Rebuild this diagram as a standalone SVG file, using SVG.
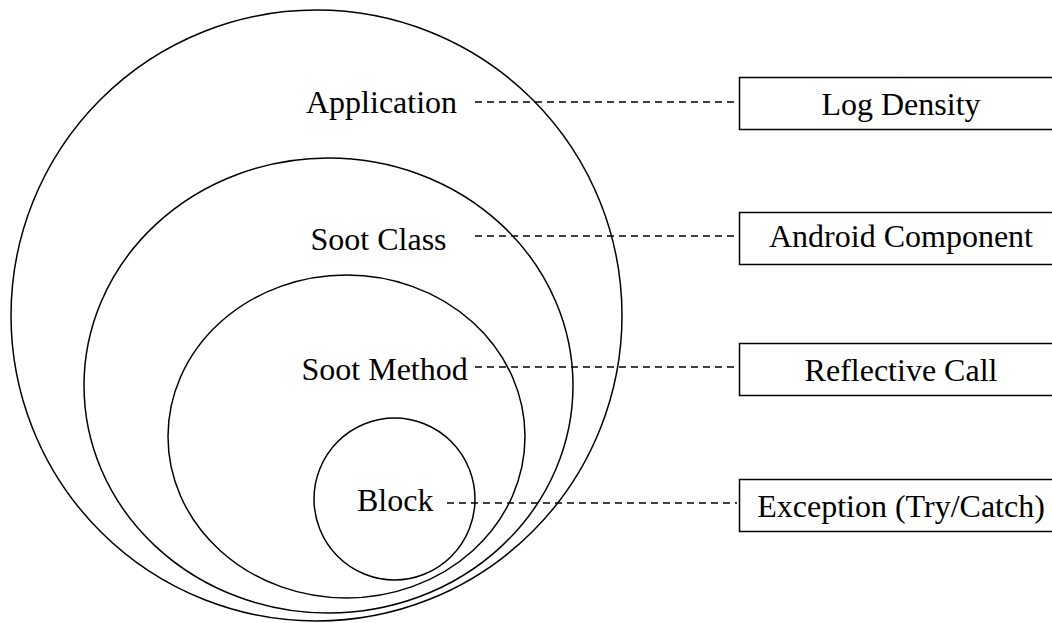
<svg xmlns="http://www.w3.org/2000/svg" width="1052" height="623" viewBox="0 0 1052 623">
  <style>
    .ring { fill: none; stroke: #000; stroke-width: 1.5; }
    .box { fill: #fff; stroke: #000; stroke-width: 1.5; }
    .link { fill: none; stroke: #000; stroke-width: 1.4; stroke-dasharray: 7 5; }
    .lbl { font-family: "Liberation Serif", "Times New Roman", serif; font-size: 32px; fill: #000; }
    .mid { text-anchor: middle; }
  </style>
  <rect width="1052" height="623" fill="#fff"/>

  <!-- nested scopes -->
  <g id="application">
    <circle class="ring" cx="316.5" cy="315.5" r="305.5"/>
    <text class="lbl" x="306" y="113">Application</text>
  </g>
  <g id="soot-class">
    <ellipse class="ring" cx="328.5" cy="385.5" rx="244.5" ry="227.5"/>
    <text class="lbl" x="310.5" y="250">Soot Class</text>
  </g>
  <g id="soot-method">
    <ellipse class="ring" cx="346.5" cy="436.5" rx="178.5" ry="161.5"/>
    <text class="lbl" x="301.5" y="380">Soot Method</text>
  </g>
  <g id="block">
    <ellipse class="ring" cx="394.5" cy="499" rx="80.5" ry="81"/>
    <text class="lbl" x="357" y="510.5">Block</text>
  </g>

  <!-- feature boxes -->
  <g id="log-density">
    <rect class="box" x="739.5" y="77.5" width="330" height="52"/>
    <text class="lbl mid" x="901" y="115">Log Density</text>
  </g>
  <g id="android-component">
    <rect class="box" x="739.5" y="212.5" width="330" height="52"/>
    <text class="lbl mid" x="901" y="246.5">Android Component</text>
  </g>
  <g id="reflective-call">
    <rect class="box" x="739.5" y="343.5" width="330" height="52"/>
    <text class="lbl mid" x="901" y="380.5">Reflective Call</text>
  </g>
  <g id="exception">
    <rect class="box" x="739.5" y="479.5" width="330" height="52"/>
    <text class="lbl mid" x="901" y="516.5">Exception (Try/Catch)</text>
  </g>

  <!-- dashed connectors -->
  <g id="connectors">
    <line class="link" x1="475" y1="102" x2="735" y2="102"/>
    <line class="link" x1="475" y1="236" x2="735" y2="236"/>
    <line class="link" x1="475" y1="367" x2="735" y2="367"/>
    <line class="link" x1="447" y1="503" x2="737" y2="503"/>
  </g>
</svg>
